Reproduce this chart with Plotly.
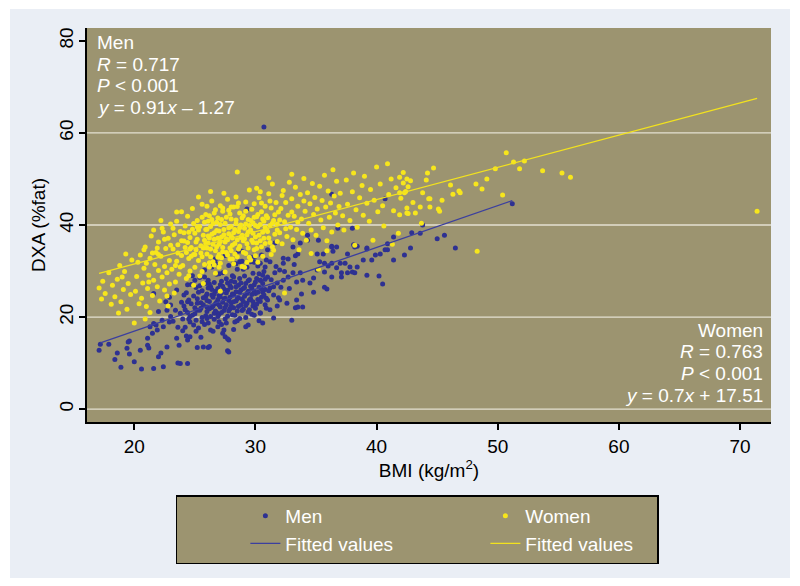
import plotly.graph_objects as go

# ---------------- data ----------------
men_points = [
    (17.2,14.1),(17.1,12.8),(17.9,14.1),(18.9,9.1),(18.4,10.8),(19.4,13.2),(19.6,14.8),(19.6,12.0),
    (20.0,10.3),(20.6,8.7),(20.5,12.8),(21.2,13.3),(21.1,15.4),(21.5,16.5),(21.6,8.8),(22.0,11.4),
    (22.2,12.2),(22.4,9.2),(22.7,13.5),(21.9,17.2),(21.6,18.6),(22.4,17.9),(22.3,19.3),(23.0,20.1),
    (23.5,15.4),(23.8,9.9),(24.4,9.9),(24.6,15.7),(25.7,13.5),(26.1,13.4),(27.7,12.7),(27.5,15.7),
    (27.8,15.0),(18.6,12.2),(19.5,14.6),(21.1,13.9),(23.6,10.0),
    (21.3,17.9),(21.8,18.3),(22.0,21.2),(22.7,21.5),(23.0,22.6),(23.4,21.5),(23.8,20.8),(21.6,25.1),
    (24.1,24.8),(24.4,23.3),(24.6,20.1),(25.2,21.5),(24.9,18.3),(25.6,19.0),(26.0,22.2),(26.6,20.8),
    (27.0,19.0),(27.4,17.2),(26.3,17.2),(24.4,15.0),(23.7,13.9),(22.6,23.3),(22.9,24.3),(23.5,25.9),
    (24.4,27.0),(25.0,28.0),(25.8,28.7),(26.4,30.9),(26.7,31.7),(28.2,31.7),(28.7,32.0),(29.6,32.0),
    (30.4,31.7),
    (24.0,19.6),(24.1,22.4),(24.2,17.8),(24.3,25.3),(24.4,21.0),(24.5,23.7),(24.6,18.9),(24.7,27.1),
    (24.8,20.4),(24.9,24.6),(24.3,15.9),(24.8,29.0),
    (25.0,22.0),(25.1,19.3),(25.1,26.4),(25.2,24.0),(25.3,17.6),(25.4,21.5),(25.4,28.6),(25.5,23.1),
    (25.6,19.9),(25.6,25.7),(25.7,22.7),(25.8,30.2),(25.8,18.4),(25.9,24.5),(25.9,27.3),(25.2,13.4),
    (25.5,15.6),
    (26.0,21.2),(26.0,25.0),(26.1,18.7),(26.1,28.0),(26.2,23.4),(26.3,20.1),(26.3,26.6),(26.4,22.1),
    (26.4,31.0),(26.5,24.3),(26.5,16.9),(26.6,27.5),(26.6,19.5),(26.7,22.9),(26.7,25.6),(26.8,29.3),
    (26.8,21.0),(26.9,23.8),(26.9,17.9),(26.2,13.6),(26.7,32.6),(26.4,26.0),
    (27.0,24.7),(27.0,20.6),(27.1,27.0),(27.1,22.2),(27.2,18.4),(27.2,25.3),(27.3,29.6),(27.3,23.2),
    (27.4,21.4),(27.4,26.1),(27.5,19.6),(27.5,24.1),(27.6,28.3),(27.6,22.7),(27.7,25.8),(27.7,20.2),
    (27.8,23.6),(27.8,31.2),(27.9,26.8),(27.9,21.8),(27.3,16.5),(27.7,15.3),(27.8,12.4),(27.5,33.4),
    (27.2,27.8),
    (28.0,23.1),(28.0,26.4),(28.1,20.5),(28.1,29.0),(28.2,24.8),(28.2,22.0),(28.3,27.6),(28.3,18.9),
    (28.4,25.5),(28.4,23.5),(28.5,30.4),(28.5,21.3),(28.6,26.9),(28.6,24.2),(28.7,19.7),(28.7,28.4),
    (28.8,22.6),(28.8,25.9),(28.9,32.1),(28.9,23.9),(28.2,17.3),(28.6,34.3),(28.4,31.6),
    (29.0,26.2),(29.0,21.7),(29.1,28.9),(29.1,24.5),(29.2,19.9),(29.2,27.3),(29.3,23.0),(29.3,30.8),
    (29.4,25.6),(29.4,21.1),(29.5,28.1),(29.5,23.7),(29.6,26.7),(29.6,33.0),(29.7,20.6),(29.7,24.9),
    (29.8,29.5),(29.8,22.4),(29.9,27.0),(29.9,31.9),(29.3,43.5),(29.4,18.3),(28.9,34.3),(29.9,33.0),
    (30.0,25.1),(30.0,21.9),(30.1,28.4),(30.2,23.8),(30.2,31.1),(30.3,26.5),(30.4,20.9),(30.4,28.0),
    (30.5,24.3),(30.5,33.5),(30.6,27.3),(30.6,18.7),(30.7,61.3),(30.7,29.9),(30.8,22.7),(30.8,26.0),
    (30.9,32.4),(30.9,24.1),
    (30.6,25.4),(31.2,26.3),(31.8,27.4),(31.6,29.6),(31.0,28.7),(30.4,28.0),(32.0,30.2),(31.2,32.0),
    (30.8,30.9),(33.0,19.3),(31.5,19.8),(30.4,20.9),(33.9,22.2),(31.5,24.8),(31.0,23.7),(32.0,23.7),
    (32.6,23.0),(33.3,22.0),(33.5,22.2),(33.4,23.7),(32.3,31.7),(32.7,32.6),(33.3,33.3),(33.1,35.2),
    (33.7,36.1),(34.3,37.8),(35.2,36.7),(36.3,35.4),(32.3,28.0),(32.7,28.7),(33.1,29.6),(33.7,29.6),
    (33.4,27.6),(33.9,28.0),(34.5,27.4),(33.8,25.0),(34.8,25.4),(35.9,26.1),(35.7,26.5),(34.8,28.5),
    (35.7,29.8),(36.3,28.7),(37.1,28.7),(38.0,29.8),(38.2,29.6),(36.7,30.7),(35.1,30.2),(35.3,32.0),
    (35.7,31.7),(35.6,33.7),(36.0,31.1),(36.3,31.7),(37.0,31.7),(37.4,31.7),(37.8,30.9),(37.6,29.6),
    (37.1,29.6),(36.7,35.2),(36.4,34.3),(37.6,33.7),(38.1,35.7),(38.4,35.4),(38.4,30.9),(38.9,32.4),
    (39.2,34.8),(39.6,32.4),(39.9,33.5),(40.3,33.7),(40.9,34.6),(41.4,32.4),(42.3,33.5),(42.8,35.0),
    (40.9,35.9),(41.4,37.4),(39.2,29.1),(40.2,28.9),(40.5,27.2),
    (36.8,39.3),(38.0,39.3),(43.8,40.0),(36.3,35.2),(38.2,35.2),(39.2,35.0),(40.7,34.6),(33.5,33.7),
    (34.3,36.7),(35.1,33.7),(31.6,36.1),(32.3,32.8),(31.0,34.6),(36.3,46.7),(40.7,45.7),
    (42.9,38.3),(43.6,38.2),(45.0,37.0),(45.6,37.8),(46.5,35.0),(51.2,44.6),
    (24.2,21.6),(24.5,19.6),(24.7,22.9),(25.0,20.7),(25.2,23.0),(25.3,25.4),(25.5,21.9),(25.7,24.2),
    (25.9,20.3),(26.0,23.6),(26.1,26.3),(26.2,21.8),(26.4,24.8),(26.5,22.4),(26.6,25.0),(26.7,21.3),
    (26.8,23.2),(26.9,26.2),(27.0,22.6),(27.1,24.4),(27.2,21.0),(27.3,26.7),(27.4,23.9),(27.5,22.1),
    (27.6,25.2),(27.7,27.4),(27.8,21.3),(27.9,24.3),(28.0,22.3),(28.0,27.8),(28.1,25.0),(28.2,23.3),
    (28.3,20.4),(28.4,26.6),(28.5,24.0),(28.6,22.3),(28.7,25.4),(28.8,27.4),(28.9,21.4),(29.0,23.4),
    (29.1,26.4),(29.2,22.5),(29.3,25.1),(29.4,27.9),(29.5,21.6),(29.6,24.0),(29.7,26.2),(29.8,23.3),
    (29.9,25.6),(30.0,27.6),(30.1,22.8),(30.2,25.4),(30.3,29.4),(30.4,23.4),(30.5,26.1),(30.6,29.1),
    (30.7,24.8),(30.8,28.2),(30.9,21.9),(31.1,25.7),(31.3,28.1),(31.5,26.6),(31.7,31.0),(31.9,24.2),
    (32.1,26.5),(32.4,29.9),(32.8,26.2),(33.2,31.4),(23.2,19.1),(23.6,17.8),(24.0,17.0),(23.9,23.2),
    (22.9,18.9),(25.1,16.9),(26.0,19.7),(26.9,20.1),(27.6,18.7),(28.5,19.2),(29.2,17.9),(29.9,20.4),
    (30.3,19.2),(31.2,21.6),(31.8,22.4),(29.0,30.4),(28.2,28.7),(27.0,29.4),(26.2,27.2),(25.4,26.8),
]

women_points = [
    (17.1,26.3),(17.3,23.9),(17.4,27.8),(17.6,25.1),(17.9,29.6),(18.1,22.8),(18.2,26.9),(18.4,24.4),
    (18.6,28.2),(18.8,31.2),(18.9,23.3),(19.1,26.0),(19.2,29.9),(19.4,21.7),(19.5,27.3),(19.7,24.9),
    (19.8,32.4),(20.0,18.7),(20.1,25.6),(20.2,28.8),(20.4,22.9),(20.5,33.5),(18.7,20.9),(19.3,33.7),
    (20.6,24.1),(20.7,27.4),(20.8,30.6),(20.9,35.2),(21.0,22.3),(21.1,26.2),(21.2,29.1),(21.3,32.8),
    (21.4,37.6),(21.5,24.7),(21.6,28.0),(21.7,31.4),(21.8,34.0),(21.9,26.6),(22.0,30.1),(22.0,36.3),
    (22.1,23.5),(22.2,33.2),(22.3,28.7),(22.4,38.5),(22.5,31.0),(22.5,25.9),(22.6,34.9),(22.7,29.6),
    (22.8,37.1),(22.9,32.3),(22.9,27.2),(23.0,35.6),(23.0,40.2),(21.3,21.0),(20.9,19.6),(21.6,38.9),
    (22.2,41.0),(22.8,22.4),(21.9,35.0),(20.8,34.6),(22.3,39.3),(23.5,42.8),
    (23.1,30.4),(23.2,34.8),(23.3,37.9),(23.4,27.6),(23.5,32.1),(23.5,40.8),(23.6,35.7),(23.7,29.3),
    (23.8,38.6),(23.9,33.4),(23.9,42.9),(23.3,25.2),
    (24.0,31.2),(24.1,36.5),(24.2,39.8),(24.3,28.4),(24.3,34.0),(24.4,41.9),(24.5,32.7),(24.6,37.3),
    (24.6,30.0),(24.7,35.1),(24.8,39.1),(24.8,43.6),(24.9,33.6),(24.9,26.9),(24.4,36.2),
    (25.0,30.8),(25.0,38.2),(25.1,34.6),(25.2,41.0),(25.2,36.9),(25.3,32.3),(25.4,39.7),(25.4,28.9),
    (25.5,35.5),(25.6,44.5),(25.6,33.1),(25.7,37.8),(25.8,31.4),(25.8,40.6),(25.9,35.9),(25.9,42.3),
    (25.3,46.1),(25.7,27.3),(26.0,44.1),
    (26.0,33.7),(26.0,39.1),(26.1,36.1),(26.2,30.9),(26.2,42.0),(26.3,34.8),(26.4,38.0),(26.4,45.2),
    (26.5,32.0),(26.5,40.3),(26.6,36.9),(26.7,29.5),(26.7,43.3),(26.8,35.3),(26.8,38.8),(26.9,33.0),
    (26.9,41.5),(26.3,47.3),(26.6,31.3),(26.1,37.6),(27.1,25.6),
    (27.0,35.8),(27.1,40.1),(27.1,31.7),(27.2,37.4),(27.3,43.0),(27.3,34.2),(27.4,39.0),(27.5,36.3),
    (27.5,29.8),(27.6,41.7),(27.7,33.5),(27.7,45.6),(27.8,38.1),(27.9,35.0),(27.9,42.4),(27.2,32.9),
    (27.6,37.0),(27.4,46.9),(27.3,43.7),(28.0,43.9),
    (28.0,34.4),(28.0,39.7),(28.1,37.2),(28.2,31.6),(28.2,43.9),(28.3,36.0),(28.4,41.1),(28.4,46.1),
    (28.5,33.1),(28.5,51.5),(28.6,38.6),(28.7,35.4),(28.7,42.6),(28.8,40.0),(28.9,37.8),(28.9,31.0),
    (28.3,39.0),(28.6,44.8),
    (29.0,36.6),(29.0,42.0),(29.1,39.3),(29.2,33.8),(29.2,45.0),(29.3,37.9),(29.4,41.2),(29.4,35.0),
    (29.5,47.6),(29.6,38.9),(29.6,32.4),(29.7,43.4),(29.8,36.2),(29.8,40.5),(29.9,44.6),(29.1,30.8),
    (29.5,39.9),
    (30.0,37.4),(30.1,41.8),(30.1,34.9),(30.2,39.6),(30.3,45.9),(30.1,48.0),(30.4,36.6),(30.4,47.2),
    (30.5,42.9),(30.6,38.4),(30.6,33.2),(30.7,40.8),(30.8,44.1),(30.8,36.0),(30.9,39.0),(30.2,31.9),
    (31.0,41.6),(31.1,37.2),(31.1,46.8),(31.2,39.9),(31.3,43.7),(31.4,35.3),(31.4,48.9),(31.5,41.0),
    (31.6,38.0),(31.7,44.9),(31.8,40.2),(31.8,36.4),(31.9,42.8),(31.3,33.6),(31.1,50.2),
    (32.0,38.3),(32.1,43.6),(32.2,35.9),(32.3,47.5),(32.4,40.7),(32.4,25.2),(32.5,44.9),(32.6,37.5),
    (32.7,42.1),(32.8,49.3),(32.9,39.5),(33.0,45.7),(33.1,36.8),(33.2,41.9),(33.3,48.2),(33.4,39.0),
    (33.5,44.1),(33.6,34.6),(33.7,46.6),(33.8,41.3),(33.9,38.2),(34.0,50.1),(34.1,43.0),(34.2,36.7),
    (34.3,47.0),(34.4,40.4),(34.5,44.6),(34.6,38.9),(34.7,49.0),(34.8,42.3),(34.9,46.0),(35.0,37.8),
    (35.1,43.5),(35.2,30.4),(35.3,48.4),(35.4,41.1),(35.5,45.3),(35.6,39.4),(35.7,50.8),(35.8,43.9),
    (35.9,36.6),(36.0,47.4),(36.1,41.7),(36.2,44.8),(36.3,38.5),(36.4,52.0),(36.5,46.3),(36.6,42.6),
    (36.7,49.5),(36.8,40.0),(36.9,44.0),(33.0,51.0),(34.6,33.8),(35.9,34.4),
    (37.0,46.9),(37.2,42.0),(37.3,38.9),(37.5,49.8),(37.6,44.5),(37.8,41.0),(38.0,47.2),(38.1,51.3),
    (38.3,43.3),(38.4,39.5),(38.6,45.9),(38.8,48.6),(38.9,42.1),(39.0,50.6),(39.2,44.7),(39.4,40.8),
    (39.5,47.7),(39.7,36.7),(39.8,45.4),(40.0,52.6),(40.1,42.9),(40.3,48.9),(40.5,44.2),(40.6,39.8),
    (40.9,53.3),(41.0,46.6),(41.2,50.0),(41.4,43.1),(41.6,48.1),(41.8,38.2),(42.0,45.8),(42.2,51.4),
    (42.4,47.3),(42.6,42.5),(42.8,49.6),(43.0,44.9),(41.3,35.8),(38.2,35.6),
    (41.9,50.4),(42.2,49.1),(42.5,50.0),(42.6,48.3),(41.9,47.0),(42.3,47.0),(41.9,42.2),(42.5,42.6),
    (42.5,43.7),(43.2,42.6),(44.3,45.7),
    (43.6,43.9),(43.7,40.4),(43.8,47.0),(44.1,49.8),(44.2,51.3),(44.4,45.7),(44.4,43.9),(44.7,52.4),
    (45.1,43.5),(45.2,43.0),(45.4,45.4),(46.1,48.7),(46.3,46.7),(46.8,47.4),(46.9,47.0),(48.2,48.9),
    (48.3,34.3),(48.7,47.8),(49.1,50.0),(49.8,52.2),(50.4,46.5),(50.7,55.7),(51.3,53.7),(51.8,52.2),
    (52.2,53.9),(53.7,51.8),(55.3,51.3),(56.0,50.4),(71.4,43.0),
    (24.2,35.1),(24.5,38.4),(24.7,33.2),(24.9,40.3),(25.1,36.3),(25.3,38.9),(25.5,33.9),(25.6,41.7),
    (25.8,36.7),(25.9,39.0),(26.0,35.0),(26.1,40.8),(26.2,37.2),(26.3,33.1),(26.4,41.2),(26.5,35.8),
    (26.6,38.3),(26.7,34.4),(26.8,40.6),(26.9,37.1),(27.0,33.6),(27.0,38.7),(27.1,36.4),(27.2,41.2),
    (27.3,35.1),(27.4,37.9),(27.5,40.4),(27.6,34.0),(27.7,36.8),(27.8,39.4),(27.9,32.6),(28.0,37.5),
    (28.0,41.3),(28.1,35.6),(28.2,38.3),(28.3,33.7),(28.4,40.3),(28.5,36.8),(28.6,34.8),(28.7,39.4),
    (28.8,37.3),(28.9,41.6),(29.0,34.1),(29.1,37.0),(29.2,40.2),(29.3,35.9),(29.4,38.5),(29.5,33.0),
    (29.6,41.0),(29.7,36.7),(29.8,38.2),(29.9,34.6),(30.0,39.9),(30.1,36.1),(30.2,42.3),(30.3,37.8),
    (30.4,40.1),(30.5,35.3),(30.6,41.3),(30.7,37.1),(30.8,39.5),(30.9,42.0),(31.0,38.6),(31.2,36.2),
    (31.4,40.4),(31.6,42.2),(31.8,38.9),(23.6,33.9),(23.9,36.6),(24.1,38.3),(23.4,31.2),(24.6,34.8),
    (25.0,33.6),(25.2,39.6),(25.7,35.0),(26.3,39.7),(26.6,42.6),(27.1,44.2),(27.8,43.2),(28.5,44.0),
    (29.2,43.0),(29.9,41.7),(30.5,44.8),(31.2,45.2),(32.0,41.1),(32.5,39.2),(33.0,42.8),(32.2,46.4),
    (33.5,40.6),(34.0,45.2),(22.5,36.9),(23.2,39.3),(22.0,33.6),(21.0,31.7),(21.5,33.9),(20.3,31.9),
    (19.0,28.7),(22.7,24.6),(21.2,27.6),(23.8,30.9),(24.5,29.0),(25.6,29.9),(26.2,31.8),(27.0,30.8),
    (28.1,32.6),(29.3,31.9),(30.0,33.3),(31.5,34.5),
]

men_bmi = [p[0] for p in men_points]
men_fat = [p[1] for p in men_points]
women_bmi = [p[0] for p in women_points]
women_fat = [p[1] for p in women_points]

# fitted-value lines (end points)
men_fit_bmi = [17.2, 51.2]
men_fit_fat = [14.4, 45.3]
women_fit_bmi = [17.1, 71.4]
women_fit_fat = [29.5, 67.5]

x_ticks = [20, 30, 40, 50, 60, 70]
y_ticks = [0, 20, 40, 60, 80]
grid_values = [0, 20, 40, 60]

men_text = ["Men", "<i>R</i> = 0.717", "<i>P</i> &lt; 0.001", "<i>y</i> = 0.91<i>x</i> – 1.27"]
women_text = ["Women", "<i>R</i> = 0.763", "<i>P</i> &lt; 0.001", "<i>y</i> = 0.7<i>x</i> + 17.51"]

# ---------------- styling ----------------
FONT = "Liberation Sans, Arial, Helvetica, sans-serif"
OLIVE = "#9c9470"
PANEL = "#eaeef5"
NAVY = "#2e3192"
YELLOW = "#f7e61c"

fig = go.Figure()
fig.add_trace(go.Scatter(x=men_bmi, y=men_fat, mode="markers", name="Men",
                         marker=dict(color=NAVY, size=5, line=dict(width=0))))
fig.add_trace(go.Scatter(x=women_bmi, y=women_fat, mode="markers", name="Women",
                         marker=dict(color=YELLOW, size=5, line=dict(width=0))))
fig.add_trace(go.Scatter(x=men_fit_bmi, y=men_fit_fat, mode="lines", name="Fitted values",
                         line=dict(color="#3b3f9f", width=1.3)))
fig.add_trace(go.Scatter(x=women_fit_bmi, y=women_fit_fat, mode="lines", name="Fitted values",
                         line=dict(color="#f2e21e", width=1.3)))

shapes = [
    dict(type="rect", xref="paper", yref="paper", x0=-0.1126, x1=1.0278, y0=-0.396, y1=1.048,
         fillcolor=PANEL, line=dict(width=0), layer="below"),
    dict(type="rect", xref="paper", yref="paper", x0=0, x1=1, y0=0, y1=1,
         fillcolor=OLIVE, line=dict(width=0), layer="below"),
]
for g in grid_values:
    shapes.append(dict(type="line", xref="paper", yref="y", x0=0, x1=1, y0=g, y1=g,
                       line=dict(color="#e4e1d2", width=1.3), layer="below"))

annotations = []
men_ys = [0.962, 0.908, 0.853, 0.799]
for t, yy in zip(men_text, men_ys):
    annotations.append(dict(text=t, xref="paper", yref="paper", x=0.012, y=yy,
                            xanchor="left", yanchor="middle", showarrow=False,
                            font=dict(family=FONT, size=19, color="white")))
women_ys = [0.2335, 0.178, 0.122, 0.068]
for t, yy in zip(women_text, women_ys):
    annotations.append(dict(text=t, xref="paper", yref="paper", x=0.991, y=yy,
                            xanchor="right", yanchor="middle", showarrow=False,
                            font=dict(family=FONT, size=19, color="white")))

fig.update_layout(
    width=800, height=586,
    margin=dict(l=87, r=29, t=28, b=164),
    paper_bgcolor="white",
    plot_bgcolor="rgba(0,0,0,0)",
    font=dict(family=FONT, size=19, color="black"),
    shapes=shapes,
    annotations=annotations,
    showlegend=True,
    legend=dict(orientation="h", x=0.483, xanchor="center", y=-0.186, yanchor="top",
                bgcolor=OLIVE, bordercolor="black", borderwidth=1.5,
                font=dict(family=FONT, size=19, color="white"),
                entrywidth=127, indentation=68, itemsizing="trace",
                traceorder="normal"),
    xaxis=dict(range=[16.1, 72.55], tickvals=x_ticks, showgrid=False, zeroline=False,
               showline=True, linecolor="black", linewidth=1.5, ticks="outside",
               ticklen=6, tickwidth=1.5, tickcolor="black",
               tickfont=dict(family=FONT, size=19, color="black"),
               title=dict(text="BMI (kg/m<sup>2</sup>)", standoff=0,
                          font=dict(family=FONT, size=19, color="black"))),
    yaxis=dict(range=[-2.8, 82.8], tickvals=y_ticks, showgrid=False, zeroline=False,
               showline=True, linecolor="black", linewidth=1.5, ticks="outside",
               ticklen=6, tickwidth=1.5, tickcolor="black", tickangle=-90,
               ticklabelstandoff=-1,
               tickfont=dict(family=FONT, size=19, color="black"),
               title=dict(text="DXA (%fat)", standoff=5,
                          font=dict(family=FONT, size=19, color="black"))),
)

fig.write_html("out.html", config={"displayModeBar": False},
               post_script="document.body.style.margin='0';")
